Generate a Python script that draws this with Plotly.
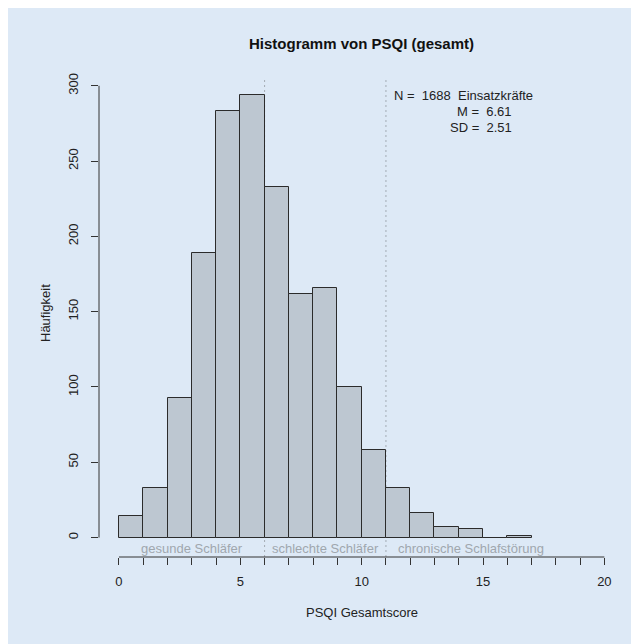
import plotly.graph_objects as go

# Data
bin_left = list(range(0, 17))
counts = [14, 33, 93, 189, 283, 294, 233, 162, 166, 100, 58, 33, 16, 7, 6, 0, 1]
cutoffs = [6, 11]
group_labels = ["gesunde Schläfer", "schlechte Schläfer", "chronische Schlafstörung"]
group_centers = [3.0, 8.5, 14.5]
x_ticks = [0, 5, 10, 15, 20]
y_ticks = [0, 50, 100, 150, 200, 250, 300]
stats_lines = ["N =  1688  Einsatzkräfte", "M =  6.61", "SD =  2.51"]

W, H = 631, 644
L, R, T, B = 99, 7, 77, 87
pw, ph = W - L - R, H - T - B

def px_x(px):
    return (px - L) / pw

def px_y(py):
    return (H - B - py) / ph

FONT = "Liberation Sans, Arial, Helvetica, sans-serif"
BG = "#dde9f6"
AX = "#333333"
FS = 13

fig = go.Figure()
fig.add_trace(go.Bar(
    x=[b + 0.5 for b in bin_left], y=counts, width=1,
    marker=dict(color="#bdc7d1", line=dict(color="#2b2b2b", width=1)),
    hoverinfo="x+y", showlegend=False,
))

shapes = [
    dict(type="rect", xref="paper", yref="paper", x0=px_x(8), x1=1.2, y0=-0.4, y1=px_y(8),
         fillcolor=BG, line=dict(width=0), layer="below"),
    dict(type="line", xref="x", yref="paper", x0=x_ticks[0], x1=x_ticks[-1], y0=0, y1=0,
         line=dict(color=AX, width=1)),
    dict(type="line", xref="paper", yref="y", x0=0, x1=0, y0=y_ticks[0], y1=y_ticks[-1],
         line=dict(color=AX, width=1)),
]
for c in cutoffs:
    shapes.append(dict(type="line", xref="x", yref="paper", x0=c, x1=c, y0=0, y1=px_y(78),
                       line=dict(color="#a3abb4", width=1, dash="2px,3px"), layer="below"))

annotations = [
    dict(text="<b>Histogramm von PSQI (gesamt)</b>", xref="paper", yref="paper",
         x=0.5, y=px_y(44), showarrow=False, font=dict(size=15, color="#111", family=FONT),
         xanchor="center", yanchor="middle"),
    dict(text="PSQI Gesamtscore", xref="paper", yref="paper", x=0.5, y=px_y(612),
         showarrow=False, font=dict(size=FS, color="#222", family=FONT),
         xanchor="center", yanchor="middle"),
    dict(text="Häufigkeit", xref="paper", yref="paper", x=px_x(45), y=px_y(313),
         showarrow=False, textangle=-90, font=dict(size=FS, color="#222", family=FONT),
         xanchor="center", yanchor="middle"),
    dict(text=stats_lines[0], xref="paper", yref="paper", x=px_x(392), y=px_y(96),
         showarrow=False, font=dict(size=FS, color="#222", family=FONT),
         xanchor="left", yanchor="middle"),
    dict(text=stats_lines[1], xref="paper", yref="paper", x=px_x(514), y=px_y(112),
         showarrow=False, font=dict(size=FS, color="#222", family=FONT),
         xanchor="right", yanchor="middle"),
    dict(text=stats_lines[2], xref="paper", yref="paper", x=px_x(514), y=px_y(128),
         showarrow=False, font=dict(size=FS, color="#222", family=FONT),
         xanchor="right", yanchor="middle"),
]
for lab, cx in zip(group_labels, group_centers):
    annotations.append(dict(text=lab, xref="x", yref="paper", x=cx, y=px_y(548),
                            showarrow=False, font=dict(size=FS, color="#a0a7ae", family=FONT),
                            xanchor="center", yanchor="middle"))

fig.update_layout(
    width=W, height=H,
    margin=dict(l=L, r=R, t=T, b=B, pad=0),
    paper_bgcolor="white", plot_bgcolor="rgba(0,0,0,0)",
    font=dict(family=FONT, size=FS, color="#222"),
    shapes=shapes, annotations=annotations,
    bargap=0, showlegend=False,
    xaxis=dict(range=[-0.823, -0.823 + pw / 24.27], tickmode="array", tickvals=x_ticks,
               ticktext=[str(v) for v in x_ticks], ticks="outside", ticklen=7,
               tickcolor=AX, showgrid=False, zeroline=False, showline=False,
               tickfont=dict(size=FS, color="#222"), ticklabelstandoff=5,
               minor=dict(tickmode="linear", tick0=0, dtick=1, ticks="outside",
                          ticklen=7, tickcolor=AX, showgrid=False)),
    yaxis=dict(range=[-12.9, -12.9 + ph / 1.506], tickmode="array", tickvals=y_ticks,
               ticktext=[str(v) for v in y_ticks], ticks="outside", ticklen=7,
               tickcolor=AX, showgrid=False, zeroline=False, showline=False,
               tickangle=-90, tickfont=dict(size=FS, color="#222"), ticklabelstandoff=8),
)

fig.write_html("out.html")
